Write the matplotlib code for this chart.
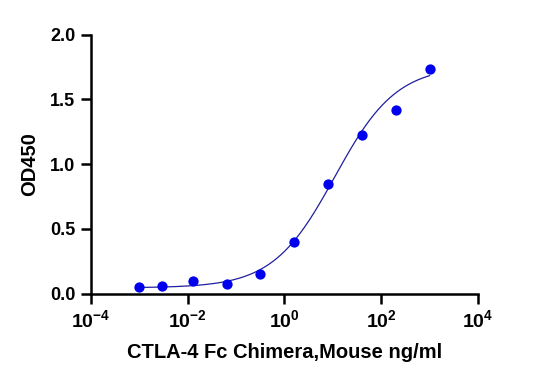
import numpy as np
import matplotlib
matplotlib.use("Agg")
import matplotlib.pyplot as plt
from matplotlib.ticker import FixedLocator, NullLocator

# measured points (concentration in ng/ml, OD450)
conc = [0.001, 0.003, 0.0128, 0.064, 0.32, 1.6, 8.1, 40, 200, 1000]
od450 = [0.049, 0.057, 0.100, 0.075, 0.154, 0.399, 0.845, 1.225, 1.418, 1.735]

# 4PL fit parameters
fit_bottom = 0.045
fit_top = 1.76
fit_ec50 = 11.0
fit_hill = 0.68

x_ticks = [1e-4, 1e-2, 1e0, 1e2, 1e4]
x_tick_labels = [r"$\mathbf{10^{-4}}$", r"$\mathbf{10^{-2}}$", r"$\mathbf{10^{0}}$",
                 r"$\mathbf{10^{2}}$", r"$\mathbf{10^{4}}$"]
y_ticks = [0.0, 0.5, 1.0, 1.5, 2.0]

plt.rcParams["font.family"] = ["Liberation Sans", "DejaVu Sans"]
plt.rcParams["font.weight"] = "bold"
plt.rcParams["mathtext.fontset"] = "custom"
plt.rcParams["mathtext.rm"] = "Liberation Sans:bold"
plt.rcParams["mathtext.bf"] = "Liberation Sans:bold"
plt.rcParams["mathtext.it"] = "Liberation Sans:bold"

fig = plt.figure(figsize=(5.38, 3.82), dpi=100)
ax = fig.add_axes([0.1686, 0.2312, 0.8885 - 0.1686, 0.9092 - 0.2312])

xs = np.logspace(np.log10(conc[0]), np.log10(conc[-1]), 300)
ys = fit_bottom + (fit_top - fit_bottom) / (1 + (fit_ec50 / xs) ** fit_hill)
ax.plot(xs, ys, color="#1f1fa0", lw=0.9, zorder=2)
ax.plot(conc, od450, "o", color="#0000ee", ms=7.4, mec="none", zorder=3, clip_on=False)

ax.set_xscale("log")
ax.set_xlim(1e-4, 1e4)
ax.set_ylim(0, 2.0)
ax.xaxis.set_major_locator(FixedLocator(x_ticks))
ax.xaxis.set_minor_locator(NullLocator())
ax.set_xticklabels(x_tick_labels)
ax.set_yticks(y_ticks)
ax.set_yticklabels([f"{v:.1f}" for v in y_ticks])

for side in ["top", "right"]:
    ax.spines[side].set_visible(False)
for side in ["left", "bottom"]:
    ax.spines[side].set_linewidth(1.8)
ax.tick_params(axis="both", which="major", width=1.8, length=7.5, labelsize=13, pad=3.5)
ax.tick_params(axis="x", labelsize=14)

ax.set_xlabel("CTLA-4 Fc Chimera,Mouse ng/ml", fontsize=14.5, fontweight="bold", labelpad=9)
ax.set_ylabel("OD450", fontsize=14.5, fontweight="bold", labelpad=8)

fig.savefig("out.png", dpi=100)
